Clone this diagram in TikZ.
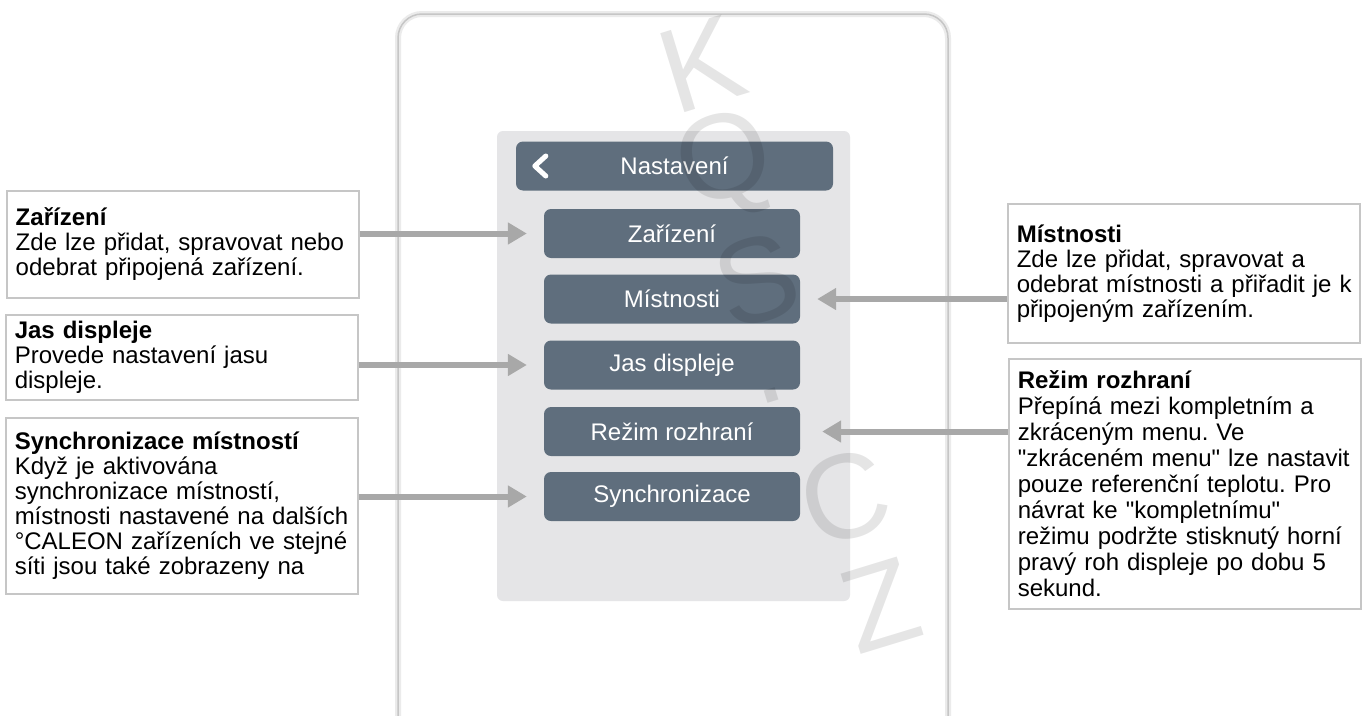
\documentclass[tikz,border=0pt]{standalone}
\usepackage{fontspec}
\setmainfont{Liberation Sans}[Ligatures=TeXOff]
\usetikzlibrary{arrows.meta}
\definecolor{slate}{HTML}{5F6E7D}
\definecolor{panel}{HTML}{E5E5E7}
\definecolor{arrowgray}{HTML}{A8A8A8}
\definecolor{framegray}{HTML}{C6C6C6}
\frenchspacing
\begin{document}
\begin{tikzpicture}[x=1pt,y=-1pt,
  btn/.style={fill=slate,rounded corners=7pt,minimum width=256pt,minimum height=49pt,inner sep=0pt,text=white,font=\fontsize{24}{25}\selectfont},
  callout/.style={draw=framegray,line width=1.5pt,fill=white,anchor=north west,align=left,text width=334pt,inner xsep=9pt,inner ysep=4pt,font=\fontsize{24}{25}\selectfont},
  callarrow/.style={draw=arrowgray,line width=6pt,-{Triangle[length=19pt,width=21pt]}},
  wmark/.style={text=black,text opacity=0.1,rotate=17,inner sep=0pt,font=\fontsize{120}{120}\selectfont}]
\useasboundingbox (0,0) rectangle (1371,715);
\fill[white] (0,0) rectangle (1371,715);
\draw[black!8,line width=6pt,rounded corners=24pt] (398,14) rectangle (948,740);
\draw[framegray,line width=1.5pt,rounded corners=24pt] (398,14) rectangle (948,740);
\fill[panel,rounded corners=6pt] (497,131) rectangle (850,601);
\node[btn,minimum width=317pt] (hdr) at (674.5,166) {Nastavení};
\draw[white,line width=5pt,line cap=round,line join=round] ([shift={(30,-10)}]hdr.west) -- ([shift={(19,0)}]hdr.west) -- ([shift={(30,10)}]hdr.west);
\node[btn] (bzar) at (672,233.5) {Zařízení};
\node[btn] (bmist) at (672,299) {Místnosti};
\node[btn] (bjas) at (672,365) {Jas displeje};
\node[btn] (brez) at (672,431.5) {Režim rozhraní};
\node[btn] (bsync) at (672,496.5) {Synchronizace};
\node[callout,minimum height=107pt] (zar) at (6,190) {\textbf{Zařízení}\\Zde lze přidat, spravovat nebo\\odebrat připojená zařízení.};
\node[callout,minimum height=85pt] (jas) at (5,314) {\textbf{Jas displeje}\\Provede nastavení jasu\\displeje.};
\node[callout,minimum height=176pt] (sync) at (5,417) {\textbf{Synchronizace místností}\\Když je aktivována\\synchronizace místností,\\\mbox{místnosti nastavené na dalších}\\°CALEON zařízeních ve stejné\\síti jsou také zobrazeny na};
\node[callout,minimum height=139pt] (mist) at (1007,203) {\textbf{Místnosti}\\Zde lze přidat, spravovat a\\\mbox{odebrat místnosti a přiřadit je k}\\připojeným zařízením.};
\node[callout,minimum height=250pt,font=\fontsize{24}{26}\selectfont] (rez) at (1008,358) {\textbf{Režim rozhraní}\\Přepíná mezi kompletním a\\zkráceným menu. Ve\\"zkráceném menu" lze nastavit\\pouze referenční teplotu. Pro\\návrat ke "kompletnímu"\\režimu podržte stisknutý horní\\pravý roh displeje po dobu 5\\sekund.};
\draw[callarrow] (zar.east |- bzar.west) -- ([xshift=-17pt]bzar.west);
\draw[callarrow] (jas.east |- bjas.west) -- ([xshift=-17pt]bjas.west);
\draw[callarrow] (sync.east |- bsync.west) -- ([xshift=-17pt]bsync.west);
\draw[callarrow] (mist.west |- bmist.east) -- ([xshift=17pt]bmist.east);
\draw[callarrow] (rez.west |- brez.east) -- ([xshift=22pt]brez.east);
\node[wmark] (wk) at (702,64) {K};
\node[wmark] (wq) at (726,167) {Q};
\node[wmark] (ws) at (757,280) {S};
\node[wmark] (wd) at (772,395) {.};
\node[wmark] (wc) at (845,497) {C};
\node[wmark] (wz) at (880,605) {Z};
\end{tikzpicture}
\end{document}
